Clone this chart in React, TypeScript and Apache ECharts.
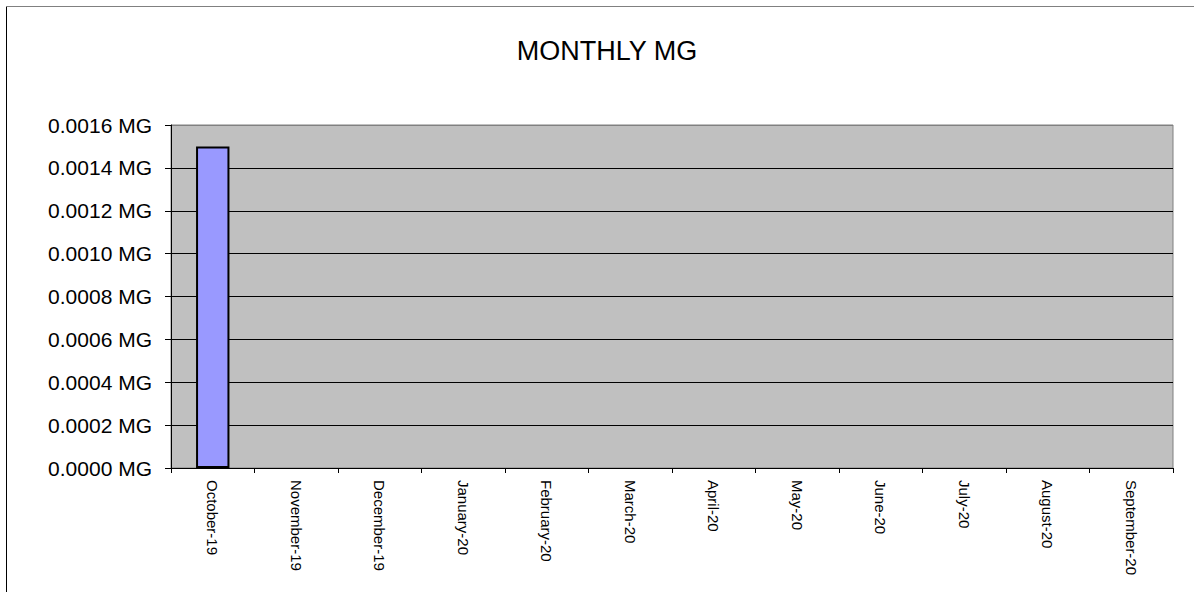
import React, { useEffect, useRef } from "react";
import * as echarts from "echarts";

const categories = [
  "October-19",
  "November-19",
  "December-19",
  "January-20",
  "February-20",
  "March-20",
  "April-20",
  "May-20",
  "June-20",
  "July-20",
  "August-20",
  "September-20",
];
const values: (number | null)[] = [0.0015, null, null, null, null, null, null, null, null, null, null, null];
const titleText = "MONTHLY MG";
const unit = " MG";
const yMin = 0;
const yMax = 0.0016;
const yInterval = 0.0002;

const FONT = "'Liberation Sans', Arial, sans-serif";

export default function App() {
  const ref = useRef<HTMLDivElement>(null);
  useEffect(() => {
    if (!ref.current) return;
    const chart = echarts.init(ref.current, null, { renderer: "svg" });
    const lineCount = Math.round((yMax - yMin) / yInterval) + 1;
    const splitColors = Array.from({ length: lineCount }, (_, i) =>
      i === lineCount - 1 ? "#808080" : "#000000"
    );
    chart.setOption({
      animation: false,
      backgroundColor: "#ffffff",
      title: {
        text: titleText,
        left: 602,
        top: 32,
        textAlign: "center",
        textStyle: { fontFamily: FONT, fontSize: 27, fontWeight: "normal", color: "#000" },
      },
      graphic: [
        {
          type: "line",
          shape: { x1: 6.5, y1: 6, x2: 6.5, y2: 600 },
          style: { stroke: "#000", lineWidth: 1 },
          silent: true,
        },
        {
          type: "line",
          shape: { x1: 6, y1: 6.5, x2: 1200, y2: 6.5 },
          style: { stroke: "#808080", lineWidth: 1 },
          silent: true,
        },
      ],
      grid: {
        left: 171,
        top: 125,
        right: 21,
        bottom: 124,
        show: true,
        backgroundColor: "#C0C0C0",
        borderColor: "#808080",
        borderWidth: 1,
      },
      xAxis: {
        type: "category",
        data: categories,
        axisLine: { show: true, lineStyle: { color: "#000", width: 1 } },
        axisTick: { show: true, interval: 0, length: 5, lineStyle: { color: "#000" } },
        axisLabel: {
          interval: 0,
          rotate: -90,
          margin: 12,
          fontFamily: FONT,
          fontSize: 15,
          color: "#000",
        },
        splitLine: { show: false },
      },
      yAxis: {
        type: "value",
        min: yMin,
        max: yMax,
        interval: yInterval,
        axisLine: { show: true, lineStyle: { color: "#000", width: 1 } },
        axisTick: { show: true, length: 6, lineStyle: { color: "#000" } },
        axisLabel: {
          margin: 19,
          fontFamily: FONT,
          fontSize: 21,
          color: "#000",
          formatter: (v: number) => v.toFixed(4) + unit,
        },
        splitLine: { show: true, lineStyle: { color: splitColors, width: 1 } },
      },
      series: [
        {
          type: "bar",
          data: values,
          barWidth: "40%",
          itemStyle: { color: "#9999FF", borderColor: "#000", borderWidth: 2 },
        },
      ],
    });
    return () => chart.dispose();
  }, []);
  return (
    <div
      ref={ref}
      style={{ position: "fixed", left: 0, top: 0, width: 1194, height: 592 }}
    />
  );
}
